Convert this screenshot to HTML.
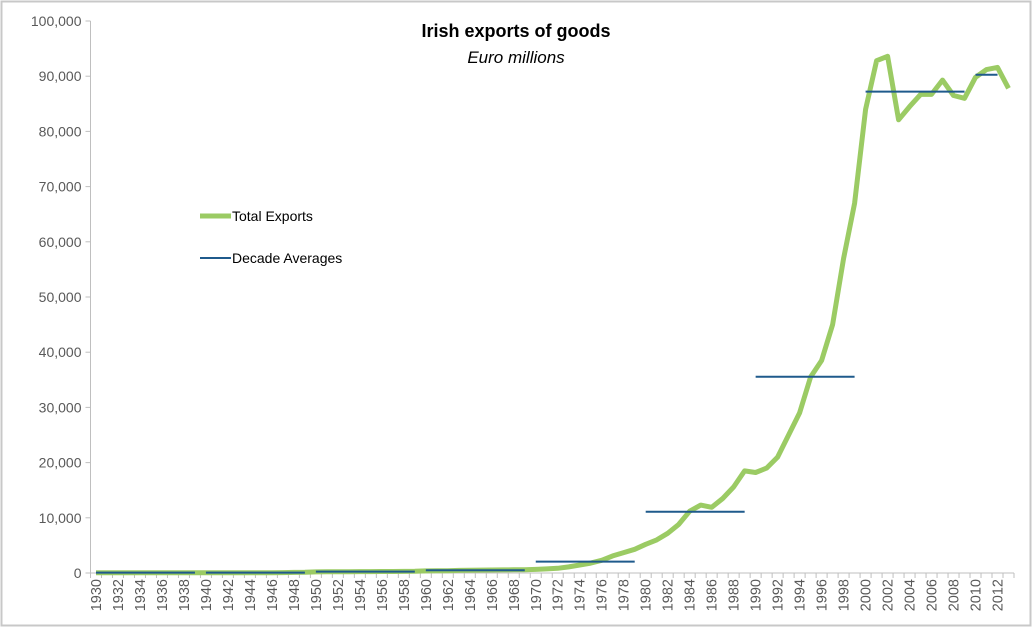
<!DOCTYPE html>
<html><head><meta charset="utf-8"><style>
html,body{margin:0;padding:0;background:#fff;}
svg{display:block;font-family:"Liberation Sans",sans-serif;}
</style></head><body>
<svg id="chart" width="1034" height="628">
<rect x="1.5" y="1.5" width="1029" height="624" fill="#fff" stroke="#c8c8c8" stroke-width="2"/>
<text x="516" y="37" text-anchor="middle" font-size="18" font-weight="bold" fill="#000">Irish exports of goods</text>
<text x="516" y="63" text-anchor="middle" font-size="17" font-style="italic" fill="#000">Euro millions</text>
<g>
<line x1="200" y1="216" x2="231" y2="216" stroke="#9bcb64" stroke-width="5"/>
<text x="232" y="221" font-size="14" fill="#000">Total Exports</text>
<line x1="200" y1="258" x2="231" y2="258" stroke="#1f5a8c" stroke-width="2"/>
<text x="232" y="263" font-size="14" fill="#000">Decade Averages</text>
</g>
<g id="axes"></g>
<g id="marks"></g>
</svg>
<script>
const years = [];
for (let y = 1930; y <= 2013; y++) years.push(y);
const exportsValues = [
 60,60,60,60,60,60,60,60,60,60,
 60,60,60,60,60,60,60,80,100,120,
 200,220,230,240,250,260,270,280,290,300,
 380,400,420,470,500,520,540,560,580,600,
 650,750,850,1100,1450,1800,2300,3100,3700,4300,
 5200,6000,7200,8800,11200,12300,11900,13500,15600,18500,
 18200,19000,21000,25000,29000,35500,38500,45000,57000,67000,
 84000,92800,93600,82100,84500,86700,86700,89300,86500,86000,
 89800,91200,91600,87800];
const decadeStarts = [1930,1940,1950,1960,1970,1980,1990,2000,2010];
const decadeEnds   = [1939,1949,1959,1969,1979,1989,1999,2009,2012];
const decadeAvg    = [60,70,250,500,2050,11100,35560,87200,90270];
const yTicks = [0,10000,20000,30000,40000,50000,60000,70000,80000,90000,100000];

const NS = "http://www.w3.org/2000/svg";
const L = 90.5, R = 1014, T = 21, B = 573;
const band = (R - L) / years.length;
const xS = yr => L + (yr - 1930 + 0.5) * band;
const yS = v => B - v / 100000 * (B - T);
const axes = document.getElementById('axes');
const marks = document.getElementById('marks');
function mk(tag, attrs, parent){const e=document.createElementNS(NS,tag);for(const k in attrs)e.setAttribute(k,attrs[k]);parent.appendChild(e);return e;}

let e = mk('line',{x1:L,y1:T,x2:L,y2:B,stroke:'#bfbfbf','stroke-width':1},axes);


yTicks.forEach(v=>{
  const y=yS(v);
  let t=mk('line',{x1:L-5,y1:y,x2:L,y2:y,stroke:'#bfbfbf'},axes);
  
  
  let tx=mk('text',{x:L-9,y:y+5,'text-anchor':'end','font-size':14,fill:'#595959'},axes);
  tx.textContent=v.toLocaleString('en-US');
  
  
});
e = mk('line',{x1:L,y1:B,x2:R,y2:B,stroke:'#bfbfbf','stroke-width':1},axes);


for(let i=0;i<=years.length;i++){
  const x=L+i*band;
  let t=mk('line',{x1:x,y1:B,x2:x,y2:B+5,stroke:'#bfbfbf'},axes);
  
  
}
years.forEach(yr=>{
  if((yr-1930)%2) return;
  const x=xS(yr);
  let tx=mk('text',{x:0,y:0,'text-anchor':'end','font-size':14.5,fill:'#595959',transform:`translate(${x+5},${B+6}) rotate(-90)`},axes);
  tx.textContent=yr;
  
  
});
const pts = years.map((yr,i)=>xS(yr).toFixed(1)+','+yS(exportsValues[i]).toFixed(1)).join(' ');
let pl=mk('polyline',{points:pts,fill:'none',stroke:'#9bcb64','stroke-width':5,'stroke-linejoin':'round'},marks);


decadeAvg.forEach((v,i)=>{
  let l=mk('line',{x1:xS(decadeStarts[i]),y1:yS(v),x2:xS(decadeEnds[i]),y2:yS(v),stroke:'#1f5a8c','stroke-width':2},marks);
  
  
});
</script>
</body></html>
